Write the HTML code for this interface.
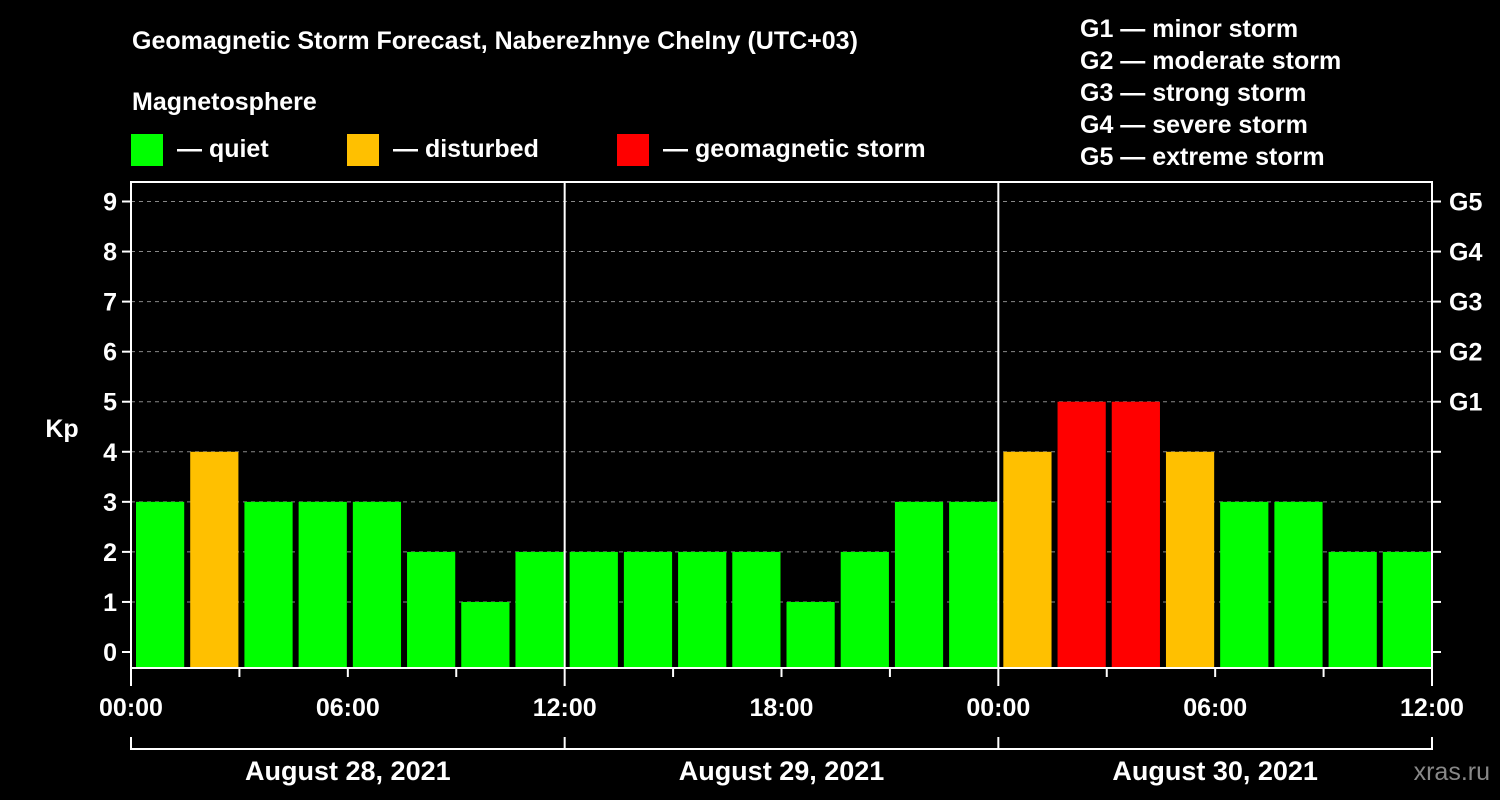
<!DOCTYPE html>
<html><head><meta charset="utf-8"><style>
body{margin:0;background:#000;}
svg{display:block;font-family:"Liberation Sans",Arial,sans-serif;font-weight:bold;}
</style></head><body>
<svg id="c" width="1500" height="800" viewBox="0 0 1500 800">
<rect width="1500" height="800" fill="#000"/>
<text x="132" y="49" fill="#fff" font-size="25">Geomagnetic Storm Forecast, Naberezhnye Chelny (UTC+03)</text>
<text x="132" y="110" fill="#fff" font-size="25">Magnetosphere</text>
<g><rect x="131" y="134" width="32" height="32" fill="#00ff00"/><text x="177" y="157" fill="#fff" font-size="25">— quiet</text></g>
<g><rect x="347" y="134" width="32" height="32" fill="#ffc000"/><text x="393" y="157" fill="#fff" font-size="25">— disturbed</text></g>
<g><rect x="617" y="134" width="32" height="32" fill="#ff0000"/><text x="663" y="157" fill="#fff" font-size="25">— geomagnetic storm</text></g>
<g fill="#fff" font-size="25">
<text x="1080" y="37">G1 — minor storm</text><text x="1080" y="69">G2 — moderate storm</text><text x="1080" y="101">G3 — strong storm</text><text x="1080" y="133">G4 — severe storm</text><text x="1080" y="165">G5 — extreme storm</text>
</g>
<text x="62" y="437" fill="#fff" font-size="25" text-anchor="middle">Kp</text>
<text x="1490" y="780" fill="#888" font-size="25" text-anchor="end" font-weight="normal">xras.ru</text>
<g id="plot"></g>
</svg>
<script>
const kpValues=[3,4,3,3,3,2,1,2, 2,2,2,2,1,2,3,3, 4,5,5,4,3,3,2,2];
const dayLabels=["August 28, 2021","August 29, 2021","August 30, 2021"];
const hourLabels=["00:00","06:00","12:00","18:00"];
const yTicks=[0,1,2,3,4,5,6,7,8,9];
const gLabels=["G1","G2","G3","G4","G5"];
const L=131,R=1432,T=182,B=668;
const slot=(R-L)/24;
const y=v=>652-v*(652-201.5)/9;
const x=i=>L+i*slot;
const ns="http://www.w3.org/2000/svg";
const g=document.getElementById('plot');
function el(t,a){const e=document.createElementNS(ns,t);for(const k in a)e.setAttribute(k,a[k]);g.appendChild(e);return e;}
function color(v){return v>=5?"#ff0000":v>=4?"#ffc000":"#00ff00";}
yTicks.forEach(v=>{
  if(v>0){const l=el('line',{x1:L,x2:R,y1:y(v),y2:y(v),stroke:'#888','stroke-width':1,'stroke-dasharray':'4,4'});
  
  }
  const t=el('line',{x1:L-9,x2:L,y1:y(v),y2:y(v),stroke:'#fff','stroke-width':2});
  
  
  const t2=el('line',{x1:R,x2:R+9,y1:y(v),y2:y(v),stroke:'#fff','stroke-width':2});
  
  
  const tx=el('text',{x:L-14,y:y(v)+9,fill:'#fff','font-size':25,'text-anchor':'end'});
  tx.textContent=v;
  
  
});
gLabels.forEach((s,i)=>{
  const tx=el('text',{x:R+17,y:y(i+5)+9,fill:'#fff','font-size':25});
  tx.textContent=s;
  
  
});
kpValues.forEach((v,i)=>{
  const r=el('rect',{x:x(i)+5,y:y(v),width:slot-6,height:B-y(v),fill:color(v)});
  
  
});
for(let d=1;d<3;d++){const l=el('line',{x1:x(d*8),x2:x(d*8),y1:T,y2:B,stroke:'#fff','stroke-width':2});
  
  }
const fr=el('rect',{x:L,y:T,width:R-L,height:B-T,fill:'none',stroke:'#fff','stroke-width':2});


for(let i=0;i<=24;i+=2){
  const tk=el('line',{x1:x(i),x2:x(i),y1:B,y2:B+(i%8==0?18:9),stroke:'#fff','stroke-width':2});
  
  
}
for(let i=0;i<=24;i+=2){
  if(i%4)continue;
  const tx=el('text',{x:x(i),y:716,fill:'#fff','font-size':25,'text-anchor':'middle'});
  tx.textContent=hourLabels[(i/2/2)%4];
  
  
}
const br=el('path',{d:`M${x(0)} 737V749H${x(24)}V737M${x(8)} 737V749M${x(16)} 737V749`,fill:'none',stroke:'#fff','stroke-width':2});


dayLabels.forEach((s,d)=>{
  const tx=el('text',{x:x(d*8+4),y:780,fill:'#fff','font-size':27,'text-anchor':'middle'});
  tx.textContent=s;
  
  
});
</script>
</body></html>
